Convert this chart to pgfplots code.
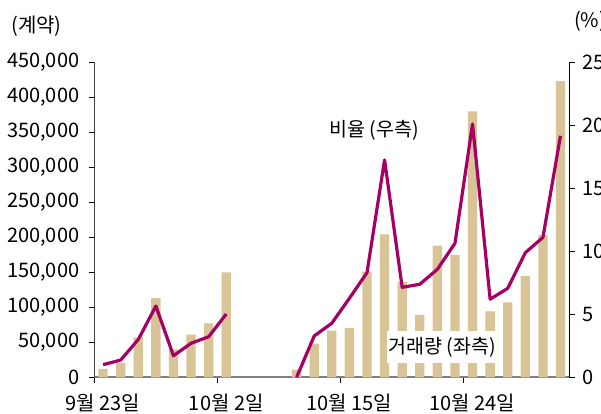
\documentclass[border=0pt]{standalone}
\usepackage{pgfplots}
\pgfplotsset{compat=1.18}
\usepackage{fontspec}
\setmainfont{Noto Sans CJK KR}
\definecolor{bartan}{RGB}{216,196,150}
\definecolor{linemag}{RGB}{165,0,100}
\begin{document}
\begin{tikzpicture}[x=1pt,y=1pt]
\begin{axis}[
  at={(94.3pt,36.7pt)}, anchor=south west, scale only axis,
  width=475pt, height=315pt,
  xmin=-0.5, xmax=26.5, ymin=0, ymax=450000,
  axis x line*=bottom, axis y line*=left,
  x axis line style={draw=gray, line width=1.6pt, -},
  y axis line style={draw=black!75, line width=0.8pt, -},
  xtick={-0.5,6.5,13.5,20.5},
  xticklabels={9월 23일,10월 2일,10월 15일,10월 24일},
  xticklabel style={xshift=8.8pt, yshift=-8pt},
  ytick={0,50000,100000,150000,200000,250000,300000,350000,400000,450000},
  yticklabels={0,{50,000},{100,000},{150,000},{200,000},{250,000},{300,000},{350,000},{400,000},{450,000}},
  yticklabel style={xshift=-6pt},
  scaled y ticks=false,
  tick align=outside, major tick length=5.5pt,
  tick style={black, line width=0.6pt},
  tick label style={font=\fontsize{20}{22}\selectfont},
  ybar, bar width=9.3pt,
]
\addplot[fill=bartan, draw=none] coordinates {
 (0,12000) (1,21000) (2,57000) (3,113000) (4,40000) (5,61000) (6,77000) (7,150000)
 (11,11000) (12,48000) (13,66500) (14,70500) (15,151000) (16,204000) (17,136000)
 (18,89000) (19,188000) (20,175000) (21,380000) (22,94000) (23,107000) (24,145000)
 (25,203000) (26,423000)
};
\end{axis}
\begin{axis}[
  at={(94.3pt,36.7pt)}, anchor=south west, scale only axis,
  width=475pt, height=315pt,
  xmin=-0.5, xmax=26.5, ymin=0, ymax=25,
  axis x line=none, axis y line*=right,
  y axis line style={draw=black, line width=0.8pt, -},
  ytick={0,5,10,15,20,25},
  yticklabels={0,5,10,15,20,25},
  tick align=outside, major tick length=5.5pt,
  tick style={black, line width=0.6pt},
  tick label style={font=\fontsize{20}{22}\selectfont},
  yticklabel style={anchor=west, xshift=4pt},
  unbounded coords=jump,
]
\addplot[linemag, line width=3.2pt, line join=round] coordinates {
 (0,1.0) (1,1.37) (2,3.0) (3,5.66) (4,1.71) (5,2.7) (6,3.22) (7,5.02)
 (8,nan) (9,nan) (10,nan)
 (11,0.0) (12,3.28) (13,4.29) (14,6.27) (15,8.3) (16,17.25) (17,7.14)
 (18,7.38) (19,8.57) (20,10.63) (21,20.1) (22,6.2) (23,7.06) (24,9.89)
 (25,11.1) (26,19.17)
};
\end{axis}
\node[font=\fontsize{20}{22}\selectfont] at (36.5,388) {(계약)};
\node[font=\fontsize{20}{22}\selectfont, anchor=west, inner sep=0pt] at (574,393) {(\%)};
\node[font=\fontsize{19.5}{22}\selectfont] at (374,284) {비율 (우측)};
\node[font=\fontsize{19.5}{22}\selectfont, fill=white, inner xsep=1pt, inner ysep=6pt] at (442,67) {거래량 (좌측)};
\pgfresetboundingbox
\path[use as bounding box] (0,0) rectangle (601,414);
\end{tikzpicture}
\end{document}
